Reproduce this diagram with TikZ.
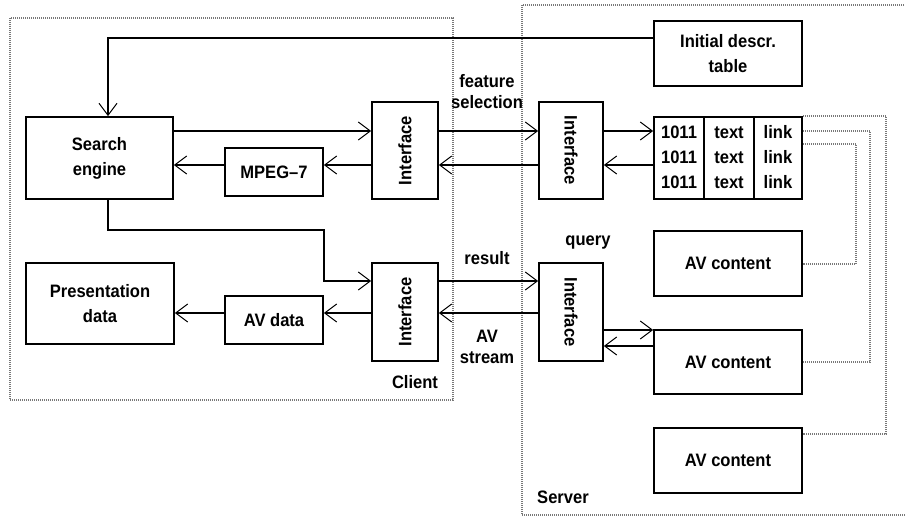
\documentclass[tikz,border=0pt]{standalone}
\usepackage{fontspec}
\setmainfont{Liberation Sans}[FakeStretch=0.92]
\usetikzlibrary{calc}
\usetikzlibrary{arrows.meta}
\usetikzlibrary{positioning}
\definecolor{zonegray}{RGB}{120, 120, 120}

\tikzset{
  box/.style={draw, line width=1.8pt, inner sep=0pt, align=center,
              font=\fontsize{18}{25}\selectfont\bfseries},
  flow/.style={->, line width=1.8pt},
  link/.style={draw=zonegray, line width=2.8pt, dash pattern=on 1pt off 1pt},
  zone/.style={draw=zonegray, line width=2.8pt, dash pattern=on 1pt off 1pt},
  lbl/.style={align=center, font=\fontsize{18}{21}\selectfont\bfseries},
  >={Straight Barb[length=12pt,width=18pt,line width=1pt]},
}

\begin{document}
\begin{tikzpicture}[x=1pt, y=-1pt]
\useasboundingbox (0,0) rectangle (905,516);
% client and server areas
\draw[zone] (10,18) rectangle (453,400);
\draw[zone] (906,5) -- (522,5) -- (522,515) -- (906,515);

% client side
\node[box, minimum width=147pt, minimum height=82pt] (search) at (99.5,158) {Search\\engine};
\node[box, minimum width=98pt,  minimum height=48pt] (mpeg)   at (274,172)   {MPEG--7};
\node[box, minimum width=66pt,  minimum height=97pt,
      label={[rotate=90, lbl]center:Interface}]      (cint1)  at (405,150.5) {};
\node[box, minimum width=148pt, minimum height=81pt] (pres)   at (100,303.5) {Presentation\\data};
\node[box, minimum width=98pt,  minimum height=48pt] (avdata) at (274,320)   {AV data};
\node[box, minimum width=66pt,  minimum height=98pt,
      label={[rotate=90, lbl]center:Interface}]      (cint2)  at (405,312)   {};

% server side
\node[box, minimum width=148pt, minimum height=65pt] (init)   at (728,53.5)  {Initial descr.\\table};
\node[box, minimum width=64pt,  minimum height=97pt,
      label={[rotate=-90, lbl]center:Interface}]     (sint1)  at (571,150.5) {};
\node[box, minimum width=50pt,  minimum height=82pt] (colnum) at (679,158)   {\strut1011\\1011\\1011\strut};
\node[box, minimum width=50pt,  minimum height=82pt] (coltxt) at (729,158)   {\strut text\\text\\text\strut};
\node[box, minimum width=48pt,  minimum height=82pt] (collnk) at (778,158)   {\strut link\\link\\link\strut};
\node[box, minimum width=64pt,  minimum height=98pt,
      label={[rotate=-90, lbl]center:Interface}]     (sint2)  at (571,312)   {};
\node[box, minimum width=148pt, minimum height=65pt] (av1)    at (728,263.5) {AV content};
\node[box, minimum width=148pt, minimum height=64pt] (av2)    at (728,362)   {AV content};
\node[box, minimum width=148pt, minimum height=65pt] (av3)    at (728,460.5) {AV content};

% labels
\node[lbl] (featlbl)   at (487,92)    {feature\\selection};
\node[lbl] (querylbl)  at (588,243)   {query};
\node[lbl] (resultlbl) at (487,258)   {result};
\node[lbl] (streamlbl) at (487,346.5) {AV\\stream};
\node[lbl] (clientlbl) at (415,382)   {Client};
\node[lbl] (serverlbl) at (563,497)   {Server};

% rows of the connectors
\coordinate (r0) at (0,38);
\coordinate (r1) at (0,131);
\coordinate (r2) at (0,165);
\coordinate (r3) at (0,281);
\coordinate (r4) at (0,313);
\coordinate (r5) at (0,330);
\coordinate (r6) at (0,346);
\coordinate (r7) at (0,144);
\coordinate (bend) at (324,230);

\draw[flow] (init.west |- r0) -| ([xshift=8.5pt]search.north);
\draw[flow] (search.east |- r1) -- (cint1.west |- r1);
\draw[flow] (cint1.east |- r1) -- (sint1.west |- r1);
\draw[flow] (sint1.east |- r1) -- (colnum.west |- r1);
\draw[flow] (colnum.west |- r2) -- (sint1.east |- r2);
\draw[flow] (sint1.west |- r2) -- (cint1.east |- r2);
\draw[flow] (cint1.west |- r2) -- (mpeg.east |- r2);
\draw[flow] (mpeg.west |- r2) -- (search.east |- r2);

\draw[flow] ([xshift=8.5pt]search.south) |- (bend) |- (cint2.west |- r3);
\draw[flow] (cint2.east |- r3) -- (sint2.west |- r3);
\draw[flow] (sint2.west |- r4) -- (cint2.east |- r4);
\draw[flow] (cint2.west |- r4) -- (avdata.east |- r4);
\draw[flow] (avdata.west |- r4) -- (pres.east |- r4);
\draw[flow] (sint2.east |- r5) -- (av2.west |- r5);
\draw[flow] (av2.west |- r6) -- (sint2.east |- r6);

% links from the table to the content
\coordinate (l1) at (886,434);
\coordinate (l2) at (870,362);
\coordinate (l3) at (856,264);
\draw[link] (collnk.north east) -| (l1) -- (av3.east |- l1);
\draw[link] (collnk.east |- r1) -| (l2) -- (av2.east |- l2);
\draw[link] (collnk.east |- r7) -| (l3) -- (av1.east |- l3);
\end{tikzpicture}
\end{document}
